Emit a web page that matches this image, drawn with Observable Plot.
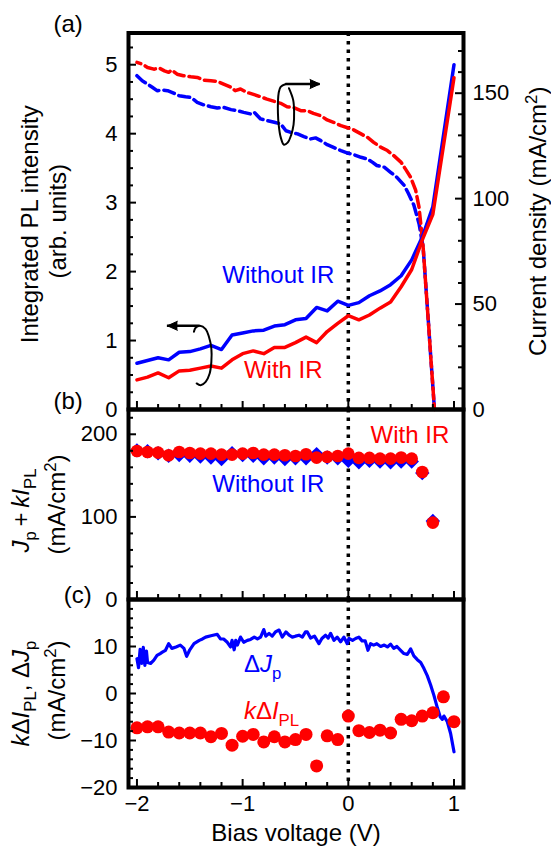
<!DOCTYPE html>
<html><head><meta charset="utf-8">
<script src="https://cdn.jsdelivr.net/npm/d3@7"></script>
<script src="https://cdn.jsdelivr.net/npm/@observablehq/plot@0.6"></script>
<style>
body{margin:0;background:#fff;}
#fig{position:relative;width:551px;height:850px;overflow:hidden;background:#fff;}
</style></head><body><div id="fig"></div>
<script>
// ---------------- data ----------------
// (a) integrated PL intensity (left axis, arb. units)
const plVolts   = [-2.0,-1.9,-1.8,-1.7,-1.6,-1.5,-1.4,-1.3,-1.2,-1.1,-1.0,-0.9,-0.8,-0.7,-0.6,-0.5,-0.4,-0.3,-0.2,-0.1,0.0,0.1,0.2,0.3,0.4,0.5,0.6,0.7,0.8,1.0];
const plWithout = [0.67,0.71,0.75,0.72,0.83,0.84,0.88,0.93,0.87,1.08,1.11,1.14,1.15,1.21,1.23,1.30,1.32,1.48,1.43,1.57,1.51,1.55,1.65,1.72,1.81,1.94,2.17,2.50,2.94,5.00];
const plWith    = [0.43,0.47,0.53,0.46,0.56,0.57,0.60,0.63,0.60,0.72,0.81,0.85,0.81,0.90,0.90,0.97,1.05,0.97,1.13,1.25,1.36,1.30,1.37,1.47,1.56,1.78,2.03,2.46,2.83,4.81];
// (a) current density (right axis, mA/cm2)
const jRedVolts  = [-2.00,-1.95,-1.90,-1.84,-1.79,-1.74,-1.70,-1.67,-1.62,-1.56,-1.49,-1.43,-1.37,-1.30,-1.24,-1.18,-1.11,-1.07,-1.02,-0.96,-0.89,-0.83,-0.77,-0.70,-0.64,-0.58,-0.51,-0.45,-0.39,-0.33,-0.26,-0.20,-0.14,-0.07,0.00,0.05,0.12,0.18,0.24,0.31,0.37,0.43,0.50,0.54,0.59,0.637,0.669,0.69,0.708,0.74,0.76,0.78,0.80,0.815];
const jRedValues = [164.6,163.8,162.2,161.4,161.9,160.6,159.9,161.0,159.0,158.3,157.8,157.5,156.2,155.9,155.6,154.3,152.8,151.2,152.0,150.4,149.3,148.3,147.2,146.1,145.2,143.6,143.0,141.7,141.7,140.4,139.3,137.3,136.2,134.6,133.5,132.6,130.7,129.1,126.7,124.3,122.8,120.4,117.2,114.1,110.1,104,96,86,77,54,40,25,11,0];
const jBlueVolts  = [-2.00,-1.95,-1.90,-1.855,-1.81,-1.76,-1.71,-1.67,-1.60,-1.54,-1.49,-1.43,-1.37,-1.30,-1.24,-1.18,-1.11,-1.05,-0.99,-0.92,-0.89,-0.83,-0.77,-0.70,-0.64,-0.59,-0.55,-0.48,-0.42,-0.36,-0.31,-0.26,-0.20,-0.14,-0.07,0.00,0.05,0.12,0.18,0.23,0.27,0.34,0.40,0.46,0.53,0.57,0.62,0.67,0.69,0.708,0.74,0.76,0.78,0.80,0.815];
const jBlueValues = [158.3,155.9,154.3,152.8,151.2,151.5,151.2,150.4,148.8,148.3,148.0,145.7,144.5,143.6,143.0,143.3,142.2,141.7,140.9,140.1,140.9,137.8,137.0,136.2,135.4,132.2,131.5,130.7,129.4,128.3,128.8,127.5,125.6,124.3,122.8,121.5,120.9,119.6,118.8,117.2,115.7,114.9,112.5,110.1,106.2,102.3,97,88,82,77,54,40,25,11,0];
// (b) Jp + k*IPL
const bVolts   = [-2.0,-1.9,-1.8,-1.7,-1.6,-1.5,-1.4,-1.3,-1.2,-1.1,-1.0,-0.9,-0.8,-0.7,-0.6,-0.5,-0.4,-0.3,-0.2,-0.1,0.0,0.1,0.2,0.3,0.4,0.5,0.6,0.7,0.8];
const bWith    = [179.8,178.6,177.8,174.6,178.6,177.4,176.6,176.6,175.4,175.4,176.6,177.4,175.4,175.4,174.6,173.8,175.8,171.8,172.6,173.8,176.6,171.4,171.4,170.5,170.5,171.8,170.5,154.4,93.1];
const bWithout = [180.5,179.5,177,174,175,174,173,172,170,177,175,174,171,172,170,171,171,176,172,171,168,166,168,167,166,167,167,153,95];
// (c) k*dIPL (points) and dJp (line)
const cVolts = [-2.0,-1.9,-1.8,-1.7,-1.6,-1.5,-1.4,-1.3,-1.2,-1.1,-1.0,-0.9,-0.8,-0.7,-0.6,-0.5,-0.4,-0.3,-0.2,-0.1,0.0,0.1,0.2,0.3,0.4,0.5,0.6,0.7,0.8,0.9,1.0];
const cKdIpl = [-7.3,-7.1,-7.1,-8.2,-8.4,-8.4,-8.4,-9.2,-8.5,-11.0,-9.1,-8.7,-10.3,-9.2,-10.3,-9.8,-8.7,-15.4,-9.0,-9.8,-4.8,-7.9,-8.3,-7.8,-8.4,-5.5,-5.8,-4.8,-4.1,-0.7,-6.0];
const dJpVolts = [-2.00,-1.985,-1.97,-1.955,-1.94,-1.925,-1.91,-1.90,-1.87,-1.84,-1.81,-1.78,-1.76,-1.73,-1.70,-1.67,-1.63,-1.59,-1.555,-1.53,-1.50,-1.46,-1.41,-1.38,-1.35,-1.30,-1.24,-1.21,-1.18,-1.145,-1.115,-1.10,-1.08,-1.065,-1.05,-1.02,-0.99,-0.955,-0.925,-0.89,-0.86,-0.83,-0.80,-0.78,-0.75,-0.72,-0.69,-0.655,-0.625,-0.59,-0.56,-0.53,-0.50,-0.467,-0.435,-0.405,-0.388,-0.357,-0.32,-0.278,-0.25,-0.215,-0.19,-0.167,-0.136,-0.105,-0.073,-0.042,-0.01,0.006,0.04,0.069,0.10,0.13,0.16,0.186,0.211,0.24,0.27,0.306,0.34,0.37,0.40,0.43,0.46,0.495,0.526,0.558,0.59,0.62,0.653,0.685,0.716,0.747,0.779,0.81,0.842,0.87,0.89,0.905,0.937,0.968,1.00];
const dJpValues = [7.4,5.5,9.4,6.4,9.8,6.0,9.0,6.6,6.4,7.1,8.1,8.5,8.8,9.2,10.6,9.6,9.9,10.3,9.6,7.9,9.3,10.6,11.3,11.6,12.0,12.3,12.6,11.6,11.6,10.9,9.9,11.3,9.3,11.3,10.3,12.0,10.9,11.3,11.5,12.0,11.6,12.0,13.6,12.2,12.8,12.2,13.1,13.5,12.0,13.1,12.4,12.0,12.2,12.4,12.0,13.1,13.1,11.8,12.2,10.6,11.7,12.4,11.8,12.8,11.3,12.0,11.0,12.0,10.6,11.7,11.3,11.7,12.0,11.2,11.2,9.2,10.6,10.3,10.6,10.0,10.3,9.9,10.5,9.6,10.0,9.2,8.5,8.3,9.5,8.0,7.2,6.6,5.3,3.8,1.8,-0.4,-3.0,-5.0,-5.5,-4.8,-6.0,-8.5,-12.4];
// tick labels
const xTickLabels = [-2,-1,0,1];
const aLeftTicks = [0,1,2,3,4,5];
const aRightTicks = [0,50,100,150];
const bTicks = [0,100,200];
const cTicks = [-20,-10,0,10];
// annotation shapes (data coords of panel a)
const loop1 = [[-0.590,4.72],[-0.640,4.68],[-0.659,4.59],[-0.666,4.45],[-0.666,4.30],[-0.659,4.13],[-0.640,3.95],[-0.609,3.84],[-0.574,3.87],[-0.541,3.98],[-0.518,4.13],[-0.513,4.32],[-0.522,4.49],[-0.562,4.66]];
const loop2 = [[-1.461,1.127],[-1.445,1.185],[-1.404,1.214],[-1.350,1.166],[-1.319,1.054],[-1.296,0.886],[-1.296,0.691],[-1.312,0.523],[-1.350,0.401],[-1.397,0.353],[-1.435,0.378]];
const arrow1 = {x1: -0.590, x2: -0.268, y: 4.72, dir: 90};
const arrow2 = {x1: -1.404, x2: -1.712, y: 1.214, dir: -90};

// ---------------- layout ----------------
const W = 551, ML = 128, MR = 88, FW = W - ML - MR;
const xDomain = [-2.08, 1.09];
const K = 0.03058;              // left-axis units per mA/cm2 in panel (a)
const BLUE = "#0000ff", RED = "#ff0000";
const FONT = "'Liberation Sans', Arial, Helvetica, sans-serif";
const FS = 22, FT = 24;
const fmt = d => d < 0 ? "\u2212" + Math.abs(d) : String(d);
const style = {background: "transparent", overflow: "visible", fontFamily: FONT, color: "black"};
const dotted = {stroke: "black", strokeWidth: 3.5, strokeDasharray: "3.5,5"};
const fig = document.getElementById("fig");

function leftTicks(vals, len) { return Plot.tickY(vals, {y: d => d, insetRight: FW - len, stroke: "black", strokeWidth: 2}); }
function rightTicks(vals, len) { return Plot.tickY(vals, {y: d => d, insetLeft: FW - len, stroke: "black", strokeWidth: 2}); }
function bottomTicks(FH) {
  const minor = d3.range(-2, 1.001, 0.2).map(v => Math.round(v * 10) / 10).filter(v => !Number.isInteger(v));
  return [
    Plot.tickX(minor, {x: d => d, insetTop: FH - 5, stroke: "black", strokeWidth: 2}),
    Plot.tickX(xTickLabels, {x: d => d, insetTop: FH - 8, stroke: "black", strokeWidth: 2})
  ];
}
function title(t, anchor, dx, dy) {
  return Plot.text([t], {frameAnchor: anchor, dx, dy, rotate: -90, textAnchor: "middle", lineAnchor: "middle", fontSize: FT});
}
function label(t, x, y, color, anchor = "start") {
  return Plot.text([t], {x, y, fill: color, fontSize: FT, textAnchor: anchor, lineAnchor: "bottom"});
}
// arrow = straight shaft + filled spike head (falls back to Plot.arrow)
function arrowMarks(a) {
  const shaft = Plot.ruleY([a.y], {x1: a.x1, x2: a.x2, stroke: "black", strokeWidth: 2.5});
  try {
    const head = Plot.vector([a], {x: "x2", y: "y", rotate: a.dir, length: 10, shape: "spike", r: 4.5, anchor: "end", fill: "black", stroke: "black", strokeWidth: 1});
    return [shaft, head];
  } catch (e) {
    return [Plot.arrow([a], {x1: "x1", x2: "x2", y1: "y", y2: "y", stroke: "black", strokeWidth: 3, headLength: 8, headAngle: 45})];
  }
}
const frame = () => Plot.frame({stroke: "black", strokeWidth: 4});

// rich text: *italic*, _{sub}, ^{sup}
function parseRich(s) {
  const segs = []; let italic = false, buf = "", i = 0;
  const flush = () => { if (buf) segs.push({text: buf, italic, shift: 0}); buf = ""; };
  while (i < s.length) {
    const c = s[i];
    if (c === "*") { flush(); italic = !italic; i++; }
    else if ((c === "_" || c === "^") && s[i + 1] === "{") {
      flush(); const j = s.indexOf("}", i);
      segs.push({text: s.slice(i + 2, j), italic: false, shift: c === "_" ? 1 : -1}); i = j + 1;
    } else { buf += c; i++; }
  }
  flush(); return segs;
}
function richify(svg, fs) {
  svg.querySelectorAll("text").forEach(node => {
    if (node.children.length) return;
    const s = node.textContent;
    if (!/[*]|_\{|\^\{/.test(s)) return;
    node.textContent = "";
    let cur = 0;
    for (const seg of parseRich(s)) {
      const t = document.createElementNS("http://www.w3.org/2000/svg", "tspan");
      t.textContent = seg.text;
      if (seg.italic) t.setAttribute("font-style", "italic");
      const target = seg.shift === 1 ? 0.28 * fs : seg.shift === -1 ? -0.38 * fs : 0;
      if (target !== cur) { t.setAttribute("dy", target - cur); cur = target; }
      if (seg.shift) t.setAttribute("font-size", 0.7 * fs);
      node.appendChild(t);
    }
  });
}
function place(svg, top) {
  svg.style.position = "absolute"; svg.style.left = "0px"; svg.style.top = top + "px";
  richify(svg, FT);
  fig.appendChild(svg);
}

// ---------------- panel (a) ----------------
const aTop = 0, aMT = 32.5, aH = 420, aFH = 376.5;
const plBlue = plVolts.map((v, i) => ({v, i: plWithout[i]}));
const plRed = plVolts.map((v, i) => ({v, i: plWith[i]}));
const jBlue = jBlueVolts.map((v, i) => ({v, j: jBlueValues[i]}));
const jRed = jRedVolts.map((v, i) => ({v, j: jRedValues[i]}));
const plotA = Plot.plot({
  width: W, height: aH, marginLeft: ML, marginRight: MR, marginTop: aMT, marginBottom: aH - aMT - aFH,
  style,
  x: {domain: xDomain, axis: null},
  y: {domain: [0, 5.46]},
  marks: [
    Plot.ruleX([0], dotted),
    Plot.line(jBlue, {x: "v", y: d => d.j * K, stroke: BLUE, strokeWidth: 3.5, strokeDasharray: "11,5"}),
    Plot.line(jRed, {x: "v", y: d => d.j * K, stroke: RED, strokeWidth: 3.5, strokeDasharray: "11,5", strokeDashoffset: 7}),
    Plot.line(plBlue, {x: "v", y: "i", stroke: BLUE, strokeWidth: 3.5}),
    Plot.line(plRed, {x: "v", y: "i", stroke: RED, strokeWidth: 3.5}),
    Plot.line(loop1, {x: d => d[0], y: d => d[1], curve: "catmull-rom", stroke: "black", strokeWidth: 2}),
    ...arrowMarks(arrow1),
    Plot.line(loop2, {x: d => d[0], y: d => d[1], curve: "catmull-rom", stroke: "black", strokeWidth: 2}),
    ...arrowMarks(arrow2),
    label("Without IR", -1.192, 1.83, BLUE),
    label("With IR", -0.988, 0.45, RED),
    leftTicks(d3.range(0, 5.46, 0.25).filter(v => !Number.isInteger(v)), 5),
    leftTicks(aLeftTicks, 8),
    rightTicks(d3.range(0, 178, 10).filter(v => v % 50).map(v => v * K), 5),
    rightTicks(aRightTicks.map(v => v * K), 8),
    ...bottomTicks(aFH),
    Plot.axisY(aLeftTicks, {anchor: "left", tickSize: 0, tickPadding: 11, fontSize: FS, label: null, tickFormat: fmt}),
    Plot.axisY(aRightTicks.map(v => v * K), {anchor: "right", tickSize: 0, tickPadding: 9, fontSize: FS, label: null, tickFormat: d => String(Math.round(d / K))}),
    title("Integrated PL intensity", "left", 30 - ML, 3),
    title("(arb. units)", "left", 58 - ML, 0),
    title("Current density (mA/cm^{2})", "right", 75, 0),
    Plot.text(["(a)"], {frameAnchor: "top-left", dx: -75, dy: -1.5, textAnchor: "start", lineAnchor: "bottom", fontSize: FT}),
    frame()
  ]
});
place(plotA, aTop);

// ---------------- panel (b) ----------------
const bTop = 380, bMT = 29, bH = 230, bFH = 190;
const bData = bVolts.map((v, i) => ({v, w: bWith[i], wo: bWithout[i]}));
const plotB = Plot.plot({
  width: W, height: bH, marginLeft: ML, marginRight: MR, marginTop: bMT, marginBottom: bH - bMT - bFH,
  style,
  x: {domain: xDomain, axis: null},
  y: {domain: [0, 230]},
  marks: [
    Plot.ruleX([0], dotted),
    Plot.dot(bData, {x: "v", y: "wo", symbol: "diamond2", r: 6.5, fill: BLUE}),
    Plot.dot(bData, {x: "v", y: "w", r: 6.3, fill: RED}),
    label("With IR", 0.211, 189.5, RED),
    label("Without IR", -1.287, 130.1, BLUE),
    leftTicks(d3.range(0, 230, 20).filter(v => v % 100), 5),
    leftTicks(bTicks, 8),
    ...bottomTicks(bFH),
    Plot.axisY(bTicks, {anchor: "left", tickSize: 0, tickPadding: 11, fontSize: FS, label: null, tickFormat: fmt}),
    title("*J*_{p}\u2009+\u2009*kI*_{PL}", "left", 21 - ML, 6),
    title("(mA/cm^{2})", "left", 57 - ML, 0),
    Plot.text(["(b)"], {frameAnchor: "top-left", dx: -75, dy: -1, textAnchor: "start", lineAnchor: "bottom", fontSize: FT}),
    frame()
  ]
});
place(plotB, bTop);

// ---------------- panel (c) ----------------
const cTop = 570, cMT = 29, cH = 280, cFH = 188;
const cData = cVolts.map((v, i) => ({v, k: cKdIpl[i]}));
const dJp = dJpVolts.map((v, i) => ({v, d: dJpValues[i]}));
const plotC = Plot.plot({
  width: W, height: cH, marginLeft: ML, marginRight: MR, marginTop: cMT, marginBottom: cH - cMT - cFH,
  style,
  x: {domain: xDomain},
  y: {domain: [-20, 20]},
  marks: [
    Plot.ruleX([0], dotted),
    Plot.line(dJp, {x: "v", y: "d", stroke: BLUE, strokeWidth: 3.2}),
    Plot.dot(cData, {x: "v", y: "k", r: 6.5, fill: RED}),
    label("\u0394*J*_{p}", -0.988, 4.6, BLUE),
    label("*k*\u0394*I*_{PL}", -0.988, -5.53, RED),
    leftTicks(d3.range(-20, 20, 2).filter(v => v % 10), 5),
    leftTicks(cTicks, 8),
    ...bottomTicks(cFH),
    Plot.axisY(cTicks, {anchor: "left", tickSize: 0, tickPadding: 11, fontSize: FS, label: null, tickFormat: fmt}),
    Plot.axisX(xTickLabels, {anchor: "bottom", tickSize: 0, tickPadding: 8, fontSize: FS, label: null, tickFormat: fmt}),
    Plot.text(["Bias voltage (V)"], {frameAnchor: "bottom", dy: 53, textAnchor: "middle", lineAnchor: "bottom", fontSize: FT}),
    title("*k*\u0394*I*_{PL}, \u0394*J*_{p}", "left", 21 - ML, 0),
    title("(mA/cm^{2})", "left", 57 - ML, -3),
    Plot.text(["(c)"], {frameAnchor: "top-left", dx: -64.7, dy: 3, textAnchor: "start", lineAnchor: "bottom", fontSize: FT}),
    frame()
  ]
});
place(plotC, cTop);
</script></body></html>
